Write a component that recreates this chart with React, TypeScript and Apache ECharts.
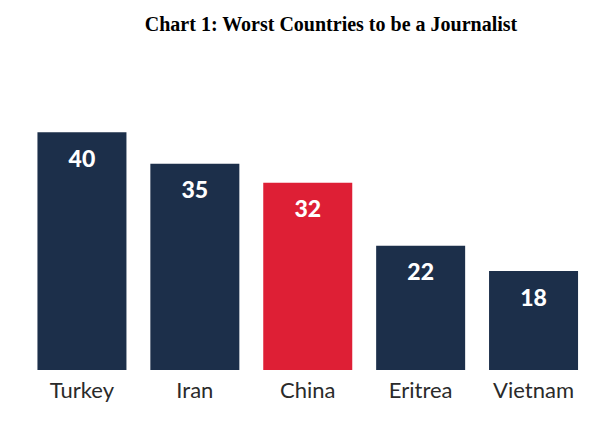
import React, { useEffect, useRef } from "react";
import * as echarts from "echarts";

const categories = ["Turkey", "Iran", "China", "Eritrea", "Vietnam"];
const values = [40, 35, 32, 22, 18];
const highlighted = "China";
const titleText = "Chart 1: Worst Countries to be a Journalist";

const NAVY = "#1c2f4a";
const RED = "#de1f35";

export default function App() {
  const ref = useRef<HTMLDivElement>(null);
  useEffect(() => {
    document.body.style.margin = "0";
    if (!ref.current) return;
    const chart = echarts.init(ref.current, null, { renderer: "svg" });
    chart.setOption({
      animation: false,
      backgroundColor: "#ffffff",
      title: {
        text: titleText,
        left: 326,
        textAlign: "center",
        top: 9,
        textStyle: {
          fontFamily: "Liberation Serif, Times New Roman, serif",
          fontWeight: "bold",
          fontSize: 20,
          color: "#000000",
        },
      },
      grid: { left: 25.5, right: 24, top: 69, bottom: 56 },
      xAxis: {
        type: "category",
        data: categories,
        axisLine: { show: false },
        axisTick: { show: false },
        axisLabel: {
          color: "#2a2a2a",
          fontFamily: "Lato, Noto Sans, sans-serif",
          fontSize: 22,
          margin: 8,
        },
      },
      yAxis: {
        type: "value",
        min: 2.33,
        max: 50,
        show: false,
        splitLine: { show: false },
      },
      series: [
        {
          type: "bar",
          barWidth: 89,
          data: values.map((v, i) => ({
            value: v,
            itemStyle: { color: categories[i] === highlighted ? RED : NAVY },
          })),
          label: {
            show: true,
            position: "insideTop",
            distance: 14,
            color: "#ffffff",
            fontFamily: "Lato, Noto Sans, sans-serif",
            fontWeight: 900,
            fontSize: 23,
          },
        },
      ],
    });
    return () => chart.dispose();
  }, []);
  return <div ref={ref} style={{ width: 614, height: 426 }} />;
}
